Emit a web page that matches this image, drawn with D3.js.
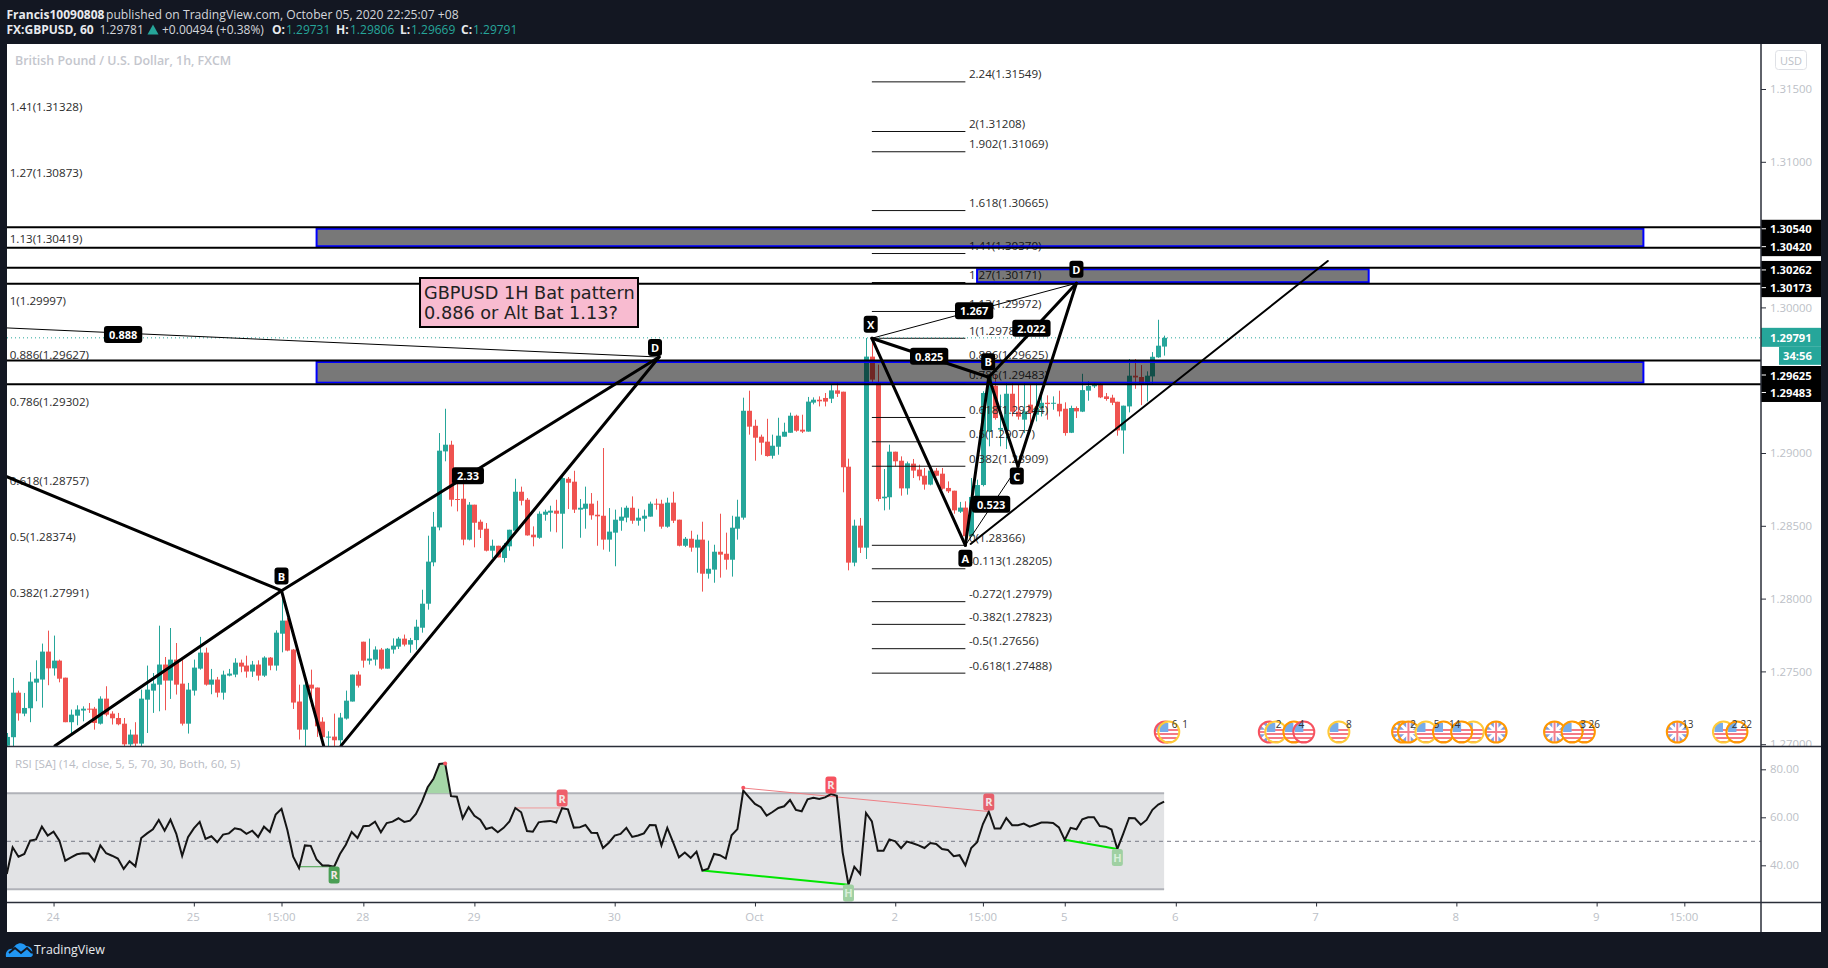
<!DOCTYPE html>
<html><head><meta charset="utf-8">
<script src="https://cdn.jsdelivr.net/npm/d3@7/dist/d3.min.js"></script>
<style>html,body{margin:0;padding:0;background:#131722;overflow:hidden}svg{display:block}text{font-family:"Open Sans",sans-serif}</style>
</head><body><svg id="c" width="1828" height="968"></svg>
<script>
// Candles, in points of 0.00001
const opens=[126990,127048,127354,127210,127247,127423,127444,127636,127521,127574,
127457,127151,127196,127231,127244,127244,127141,127313,127210,127180,
127141,126999,127066,127004,127306,127368,127409,127547,127437,127581,
127416,127141,127368,127519,127629,127409,127444,127354,127471,127478,
127560,127540,127499,127547,127471,127595,127540,127759,127849,127650,
127293,127100,127409,127389,127155,127048,127052,127027,127176,127293,
127478,127704,127574,127581,127650,127519,127650,127670,127725,127684,
127715,127800,127965,128249,128489,129011,129057,128684,128686,128405,
128645,128528,128480,128329,128363,128279,128359,128466,128734,128679,
128439,128418,128576,128590,128604,128583,128823,128803,128611,128617,
128652,128576,128569,128405,128453,128535,128556,128624,128535,128549,
128563,128652,128652,128494,128659,128542,128363,128411,128350,128405,
128171,128199,128322,128308,128267,128480,128556,129290,129187,129112,
129078,128981,129043,129112,129139,129256,129160,129147,129346,129366,
129378,129373,129430,129421,128906,128247,128501,128350,129662,129481,
128689,128696,129009,128947,128757,128927,128886,128844,128783,128879,
128858,128760,128741,128597,128625,128428,128689,128780,129147,129462,
129160,129156,129407,129284,129229,129332,129263,129309,129345,129338,
129338,129304,129139,129309,129284,129428,129458,129469,129389,129380,
129352,129155,129320,129531,129522,129469,129526,129657,129731];
const closes=[127050,127354,127212,127249,127430,127450,127636,127521,127574,127450,
127151,127203,127238,127244,127240,127146,127313,127203,127178,127137,
126999,127066,127004,127313,127375,127416,127547,127437,127581,127409,
127141,127375,127526,127629,127409,127444,127354,127478,127485,127560,
127533,127499,127547,127471,127595,127540,127766,127849,127643,127286,
127100,127409,127382,127123,127048,127052,127027,127183,127299,127478,
127402,127574,127588,127650,127519,127656,127677,127725,127684,127715,
127807,127965,128254,128494,129016,129057,128679,128682,128405,128645,
128521,128473,128329,128363,128283,128363,128473,128734,128672,128434,
128421,128583,128597,128604,128583,128828,128796,128611,128624,128652,
128572,128565,128405,128460,128542,128563,128624,128535,128556,128569,
128652,128647,128494,128659,128535,128363,128411,128350,128405,128171,
128205,128322,128302,128267,128487,128563,129290,129181,129105,129071,
128979,129050,129119,129146,129256,129153,129147,129353,129366,129355,
129353,129430,129407,128902,128247,128501,128350,129662,129504,128684,
128700,129009,128943,128757,128929,128879,128840,128783,128879,128844,
128755,128737,128606,128625,128428,128698,128780,129412,129524,129240,
129172,129407,129284,129250,129286,129274,129309,129345,129336,129345,
129286,129137,129309,129286,129432,129460,129471,129382,129371,129345,
129155,129325,129531,129519,129469,129531,129661,129737,129791];
const highs=[127077,127455,127368,127352,127494,127576,127691,127780,127746,127581,
127457,127238,127267,127260,127283,127256,127329,127398,127226,127215,
127180,127100,127151,127375,127540,127489,127814,127599,127798,127695,
127581,127421,127581,127737,127663,127517,127462,127505,127517,127590,
127581,127608,127572,127576,127604,127599,127782,128050,127867,127654,
127409,127421,127512,127389,127185,127089,127210,127215,127368,127478,
127501,127704,127725,127672,127661,127661,127727,127737,127753,127730,
127855,128061,128432,128595,129137,129304,129084,128794,128805,128663,
128645,128542,128519,128405,128363,128382,128473,128823,128769,128691,
128496,128599,128611,128638,128679,128844,128835,128878,128684,128769,
128725,128672,129034,128622,128611,128627,128638,128702,128617,128611,
128666,128686,128679,128693,128734,128542,128423,128466,128439,128528,
128398,128370,128583,128453,128569,128679,129380,129428,129229,129126,
129235,129126,129242,129208,129277,129263,129263,129385,129382,129389,
129412,129469,129481,129421,128961,128542,128554,129790,129790,129607,
128890,129057,129009,128977,128941,128959,128920,128897,128909,128897,
128897,128805,128741,128664,128668,128828,128817,129424,129538,129538,
129401,129481,129481,129470,129480,129469,129480,129412,129396,129389,
129428,129348,129325,129320,129544,129492,129487,129480,129412,129400,
129352,129325,129645,129645,129604,129561,129693,129915,129806];
const lows=[126960,126974,127162,127192,127151,127295,127251,127405,127471,127425,
127151,127066,127130,127157,127215,127100,127135,127192,127135,127130,
126974,126974,126980,126980,127077,127215,127226,127233,127311,127341,
127128,127073,127334,127512,127402,127343,127322,127306,127466,127460,
127494,127457,127462,127437,127462,127508,127505,127631,127638,127242,
127032,126974,127260,127050,126974,126974,126974,126974,127169,127293,
127389,127526,127547,127540,127512,127519,127622,127654,127672,127628,
127649,127766,127924,128222,128469,128943,128633,128599,128366,128400,
128352,128416,128324,128279,128283,128249,128329,128462,128640,128432,
128359,128411,128535,128460,128455,128343,128615,128588,128418,128480,
128542,128363,128336,128322,128222,128466,128524,128514,128501,128460,
128563,128611,128480,128487,128519,128359,128354,128322,128178,128048,
128137,128109,128144,128199,128151,128405,128542,129126,128947,128988,
128975,128961,128988,129112,129139,129146,129137,129147,129334,129320,
129320,129343,129385,128730,128194,128222,128313,128272,129481,128668,
128606,128611,128909,128707,128714,128828,128812,128748,128778,128840,
128748,128725,128583,128588,128393,128428,128680,128771,129046,129229,
129046,129028,129252,129229,129137,129201,129217,129251,129229,129297,
129251,129119,129137,129240,129281,129359,129446,129377,129359,129329,
129119,128995,129279,129441,129329,129354,129469,129654,129669];
const rsiValues=[36.4,47.5,43.6,44.7,50.3,50.8,56.1,52.4,54.0,50.3,
41.9,43.3,44.6,45.0,44.9,41.7,48.3,45.0,44.0,42.8,
38.5,41.7,39.6,51.4,53.3,55.0,58.9,54.4,59.0,53.1,
43.9,51.7,55.4,58.1,51.0,52.1,49.6,52.8,53.3,55.4,
54.9,53.1,54.4,51.8,56.1,53.9,61.1,63.5,54.7,43.6,
38.8,48.3,48.1,42.4,39.9,39.9,39.4,44.7,48.6,53.9,
51.4,56.3,56.5,58.2,53.8,57.6,58.2,59.6,58.1,58.6,
61.4,66.3,72.5,76.0,82.2,82.5,68.8,68.6,59.6,64.2,
60.6,59.0,55.1,55.8,53.8,55.6,58.3,63.9,62.1,54.3,
54.0,57.9,58.3,58.5,57.8,63.8,63.3,55.7,55.8,56.8,
53.6,53.5,47.2,49.4,52.4,53.1,55.6,51.8,52.4,53.3,
56.8,56.7,48.3,55.6,49.6,43.3,45.3,43.1,45.7,37.8,
38.6,44.7,44.2,42.8,52.5,55.1,71.1,68.3,65.6,64.2,
60.7,62.2,63.9,64.6,67.2,63.1,62.5,67.5,68.1,67.6,
68.3,69.7,69.0,45.4,31.9,39.4,36.4,61.8,58.3,46.1,
46.1,50.8,50.0,47.1,49.9,49.2,48.3,47.2,49.3,48.9,
46.8,46.4,43.8,44.2,40.0,47.2,49.6,57.2,62.4,55.3,
55.3,59.7,56.7,56.7,57.4,56.1,56.9,57.8,57.8,57.6,
55.8,50.6,55.6,55.0,59.2,60.0,60.0,56.4,56.1,54.9,
46.8,53.1,59.7,59.6,56.9,58.9,63.1,65.3,66.5];

const priceTicks=[1.315,1.31,1.30,1.29,1.285,1.28,1.275,1.27];
const rsiTicks=[80,60,40];
const timeTickBars=[8,32,47,61,80,104,128,152,167,181,200,224,248,272,287];
const timeTickLabels=["24","25","15:00","28","29","30","Oct","2","15:00","5","6","7","8","9","15:00"];

// Fibonacci levels
const leftFib=[["1.41",1.31328],["1.27",1.30873],["1.13",1.30419],["1",1.29997],["0.886",1.29627],["0.786",1.29302],["0.618",1.28757],["0.5",1.28374],["0.382",1.27991]];
const centerFib=[["2.24",1.31549],["2",1.31208],["1.902",1.31069],["1.618",1.30665],["1.41",1.30370],["1.27",1.30171],["1.13",1.29972],["1",1.29788],["0.886",1.29625],["0.786",1.29483],["0.618",1.29244],["0.5",1.29077],["0.382",1.28909],["0",1.28366],["-0.113",1.28205],["-0.272",1.27979],["-0.382",1.27823],["-0.5",1.27656],["-0.618",1.27488]];
const fibLineBars=[148,164];
const fibLeftBar=0.5, fibCenterBar=164.6;

// Zones: [top price, bottom price, first bar, last bar]
const zones=[[1.30540,1.30420,53,280],[1.30262,1.30173,166,233],[1.29625,1.29483,53,280]];
const zoneTags=[1.30540,1.30420,1.30262,1.30173,1.29625,1.29483];
const zoneTagNudge=[0,0.4,0.7,5.4,13,9.8];

// Harmonic pattern legs: [bar, price, bar, price, weight]
const legs=[
 [0.03,1.29859,111.6,1.29659,1],
 [0,1.28837,47,1.28054,3],[8.25,1.2699,47,1.28054,3],[47,1.28054,54.2,1.2699,3],
 [47,1.28054,111.6,1.29659,3],[57.2,1.2699,111.6,1.29659,3],
 [148,1.29788,164,1.28366,3],[164,1.28366,168,1.2952,3],[168,1.2952,173,1.28909,3],[173,1.28909,183,1.30166,3],
 [148,1.29788,168,1.2952,3],[168,1.2952,183,1.30166,3],
 [148,1.29788,183,1.30166,1],[164,1.28366,173,1.28909,1],
 [164.9,1.28375,226,1.30319,2]];
const legLabels=[["0.888",19.9,1.29814],["2.33",78.9,1.28844],["B",47,1.28155],["D",110.9,1.29725],
 ["1.267",165.5,1.29977],["2.022",175.3,1.29856],["0.825",157.8,1.29664],["0.523",168.4,1.28648],
 ["X",147.8,1.29884],["A",164,1.28277],["B",167.9,1.29627],["C",172.8,1.28842],["D",183,1.30262]];

// Economic events: [bar, country, ring]
const events=[[198.2,"US","#f7525f"],[198.8,"US","#ffca3a"],[216,"GB","#f7525f"],[217.1,"US","#ffca3a"],[220.2,"US","#ff9800"],[221.9,"US","#f7525f"],
 [227.9,"US","#ffca3a"],[238.8,"GB","#ff9800"],[239.8,"GB","#ff9800"],[242.8,"US","#ffca3a"],[245.8,"US","#ff9800"],[250.9,"US","#ffca3a"],[248.9,"US","#ff9800"],
 [254.8,"GB","#ff9800"],[264.8,"GB","#ff9800"],[269.9,"US","#ff9800"],[267.8,"US","#ff9800"],[285.8,"GB","#ff9800"],[293.7,"US","#ffca3a"],[296,"US","#ff9800"]];
const eventCounts=[["6",199.8],["1",201.6],["2",217.6],["4",221.5],["8",229.6],["2",240.6],["5",244.6],["14",247.7],["3",269.7],["26",271.6],["13",287.6],["2",295.6],["22",297.6]];

// RSI annotations
const rsiPlain=[[50,39.4,56,39.4,"#43a047",1],[87,63.9,95,63.9,"#ef9a9a",1],[126,72.2,168,62.4,"#ef7f85",1],[119,37.8,144,31.9,"#00e600",2],[181,50.6,190,46.8,"#00e600",2]];
const rsiBadges=[["R",56,36.0,"#4a9f55"],["R",95,68.0,"#ef5f6b"],["R",141,73.5,"#f6525f"],["R",168,66.4,"#e6606c"],["H",144,28.5,"#9fd0a2"],["H",190,43.2,"#9fd0a2"]];
const rsiDots=[[75,82.4],[126,72.3]];

const svg=d3.select("#c");
const W=1828,H=968,L=7,PR=1761,T=44,PB=746.5,RB=902.5,BB=932,RR=1821;
const x=d3.scaleLinear().domain([0,198]).range([6.8,6.8+198*5.845]);
const y=d3.scaleLinear().domain([1.315,1.27]).range([89,744.2]);
const yr=d3.scaleLinear().domain([80,40]).range([769.3,865.3]);
const TEAL="#26a69a",RED="#ef5350",AX="#2a2e39";

const bars=d3.range(opens.length).map(i=>({i,o:opens[i]/1e5,h:highs[i]/1e5,l:lows[i]/1e5,c:closes[i]/1e5}));
svg.append("rect").attr("width",W).attr("height",H).attr("fill","#131722");
svg.append("rect").attr("x",L).attr("y",T).attr("width",RR-L).attr("height",BB-T).attr("fill","#fff");
const defs=svg.append("defs");
defs.append("clipPath").attr("id","main").append("rect").attr("x",L).attr("y",T).attr("width",PR-L).attr("height",PB-T);
defs.append("clipPath").attr("id","axisclip").append("rect").attr("x",PR).attr("y",T).attr("width",RR-PR).attr("height",PB-T);
defs.append("clipPath").attr("id","rsi").append("rect").attr("x",L).attr("y",PB).attr("width",PR-L).attr("height",RB-PB);
defs.append("clipPath").attr("id","disc").append("circle").attr("r",10.5);

const main=svg.append("g").attr("clip-path","url(#main)");

// candles
const cg=main.append("g");
cg.selectAll("line").data(bars).join("line")
 .attr("x1",d=>Math.round(x(d.i))+.5).attr("x2",d=>Math.round(x(d.i))+.5)
 .attr("y1",d=>y(d.h)).attr("y2",d=>y(d.l)).attr("stroke",d=>d.c>=d.o?TEAL:RED);
cg.selectAll("rect").data(bars).join("rect")
 .attr("x",d=>Math.round(x(d.i))-2).attr("width",5)
 .attr("y",d=>y(Math.max(d.o,d.c))).attr("height",d=>Math.max(1,Math.abs(y(d.o)-y(d.c))))
 .attr("fill",d=>d.c>=d.o?TEAL:RED);

// fib
const fibStyle=s=>s.attr("font-size",11.6).attr("fill","#2b2b2b").attr("dominant-baseline","central");
fibStyle(main.append("g").selectAll("text").data(leftFib).join("text")
 .attr("x",x(fibLeftBar)).attr("y",d=>y(d[1])-7.5).text(d=>`${d[0]}(${d[1].toFixed(5)})`));
main.append("g").selectAll("line").data(centerFib).join("line")
 .attr("x1",x(fibLineBars[0])).attr("x2",x(fibLineBars[1]))
 .attr("y1",d=>y(d[1])).attr("y2",d=>y(d[1])).attr("stroke","#111").attr("stroke-width",1);
fibStyle(main.append("g").selectAll("text").data(centerFib).join("text")
 .attr("x",x(fibCenterBar)).attr("y",d=>y(d[1])-8).text(d=>`${d[0]}(${d[1].toFixed(5)})`));

// zones
const zg=main.append("g");
zg.selectAll("rect").data(zones).join("rect")
 .attr("x",d=>x(d[2])).attr("width",d=>x(d[3])-x(d[2]))
 .attr("y",d=>y(d[0])).attr("height",d=>y(d[1])-y(d[0]))
 .attr("fill","rgba(0,0,0,0.53)").attr("stroke","#0000ff").attr("stroke-width",2);
zg.selectAll("line").data(zoneTags).join("line")
 .attr("x1",L).attr("x2",PR).attr("stroke","#000").attr("stroke-width",2)
 .attr("y1",(d,k)=>y(d)+(k%2?1.6:-1.6)).attr("y2",(d,k)=>y(d)+(k%2?1.6:-1.6));

// last price line
main.append("line").attr("x1",L).attr("x2",PR).attr("y1",y(closes[198]/1e5)).attr("y2",y(closes[198]/1e5))
 .attr("stroke",TEAL).attr("stroke-dasharray","1 3");

// pattern legs
main.append("g").selectAll("line").data(legs).join("line")
 .attr("x1",d=>x(d[0])).attr("y1",d=>y(d[1])).attr("x2",d=>x(d[2])).attr("y2",d=>y(d[3]))
 .attr("stroke","#000").attr("stroke-width",d=>d[4]).attr("stroke-linecap","round");

// text note
const note=main.append("g");
note.append("rect").attr("x",420).attr("y",278).attr("width",218).attr("height",49).attr("fill","#f8bbd0").attr("stroke","#000").attr("stroke-width",2);
["GBPUSD 1H Bat pattern","0.886 or Alt Bat 1.13?"].forEach((t,k)=>note.append("text").attr("x",424).attr("y",292.5+k*20).attr("dominant-baseline","central")
 .style("font-family","DejaVu Sans").attr("font-size",17.7).attr("fill","#222").text(t));

// badges on legs
const lab=main.append("g").selectAll("g").data(legLabels).join("g").attr("transform",d=>`translate(${x(d[1])},${y(d[2])})`);
lab.append("rect").attr("x",-7).attr("width",14).attr("y",-8.5).attr("height",17).attr("rx",3).attr("fill","#000");
lab.append("text").attr("text-anchor","middle").attr("dominant-baseline","central").attr("fill","#fff").attr("font-size",11).attr("font-weight",700).text(d=>d[0]);
lab.each(function(d){const g=d3.select(this),w=g.select("text").node().getBBox().width+10; if(d[0].length>1) g.select("rect").attr("x",-w/2).attr("width",w);});

// events
const ev=main.append("g").selectAll("g").data(events).join("g").attr("transform",d=>`translate(${x(d[0])},732)`);
ev.append("circle").attr("r",10.5).attr("fill","#fff");
const face=ev.append("g").attr("clip-path","url(#disc)").attr("opacity",.75);
face.each(function(d){
 const g=d3.select(this);
 if(d[1]==="US"){
  [1,5,9].forEach(v=>g.append("rect").attr("x",-11).attr("y",v).attr("width",22).attr("height",2).attr("fill","#f04e5e"));
  g.append("rect").attr("x",-1).attr("y",-3).attr("width",12).attr("height",2).attr("fill","#f04e5e");
  g.append("rect").attr("x",-9).attr("y",-9).attr("width",8.5).attr("height",9).attr("fill","#4a90e2");
 } else {
  g.append("rect").attr("x",-11).attr("y",-11).attr("width",22).attr("height",22).attr("fill","#5b7fd3");
  g.append("path").attr("d","M-11,-11L11,11M11,-11L-11,11").attr("stroke","#fff").attr("stroke-width",3);
  g.append("path").attr("d","M0,-11V11M-11,0H11").attr("stroke","#fff").attr("stroke-width",4.5);
  g.append("path").attr("d","M0,-11V11M-11,0H11").attr("stroke","#ef5566").attr("stroke-width",2);
 }
});
ev.append("circle").attr("r",10.5).attr("fill","none").attr("stroke",d=>d[2]).attr("stroke-width",2);
main.append("g").selectAll("text").data(eventCounts).join("text").attr("x",d=>x(d[1])).attr("y",724).attr("text-anchor","middle").attr("dominant-baseline","central")
 .attr("font-size",10).attr("fill","#333").text(d=>d[0]);

// titles
svg.append("text").attr("x",15).attr("y",60).attr("dominant-baseline","central").attr("font-size",12.4).attr("font-weight",600).attr("fill","#c4c6cd").text("British Pound / U.S. Dollar, 1h, FXCM");

// RSI pane
const rp=svg.append("g").attr("clip-path","url(#rsi)");
rp.append("rect").attr("x",L).attr("width",x(198)-L).attr("y",yr(70)).attr("height",yr(30)-yr(70)).attr("fill","#e2e3e5");
rp.append("g").selectAll("line").data([70,30]).join("line").attr("x1",L).attr("x2",x(198)).attr("y1",d=>yr(d)).attr("y2",d=>yr(d)).attr("stroke","#b0b2b8").attr("stroke-width",2);
rp.append("line").attr("x1",L).attr("x2",PR).attr("y1",yr(50)).attr("y2",yr(50)).attr("stroke","#787b86").attr("stroke-dasharray","4 4");
const series=rsiValues.map((v,i)=>[i,v]);
const area=d3.area().defined(d=>d[1]>=70).x(d=>x(d[0])).y0(yr(70)).y1(d=>yr(d[1]));
const clampSeries=[];
series.forEach((d,k)=>{ if(k){const p=series[k-1]; if((p[1]-70)*(d[1]-70)<0){const t=(70-p[1])/(d[1]-p[1]);clampSeries.push([p[0]+t,70]);}} clampSeries.push(d);});
rp.append("path").attr("d",area(clampSeries)).attr("fill","#a5d6a7");
rp.append("g").selectAll("line").data(rsiPlain).join("line").attr("x1",d=>x(d[0])).attr("y1",d=>yr(d[1])).attr("x2",d=>x(d[2])).attr("y2",d=>yr(d[3])).attr("stroke",d=>d[4]).attr("stroke-width",d=>d[5]);
rp.append("path").attr("d",d3.line().x(d=>x(d[0])).y(d=>yr(d[1]))(series)).attr("fill","none").attr("stroke","#151515").attr("stroke-width",2);
rp.append("g").selectAll("circle").data(rsiDots).join("circle").attr("cx",d=>x(d[0])).attr("cy",d=>yr(d[1])).attr("r",2).attr("fill","#f7525f");
const bd=rp.append("g").selectAll("g").data(rsiBadges).join("g").attr("transform",d=>`translate(${x(d[1])},${yr(d[2])})`);
bd.append("rect").attr("x",-5.5).attr("y",-8.5).attr("width",11).attr("height",17).attr("rx",2.5).attr("fill",d=>d[3]);
bd.append("text").attr("text-anchor","middle").attr("dominant-baseline","central").attr("font-size",11).attr("font-weight",700).attr("fill",d=>d[0]==="H"?"#d8efd9":"#f3e6e6").text(d=>d[0]);
svg.append("text").attr("x",15).attr("y",763.5).attr("dominant-baseline","central").attr("font-size",11.6).attr("fill","#b9bcc4").text("RSI [SA] (14, close, 5, 5, 70, 30, Both, 60, 5)");

// axes
const styleAxis=g=>{g.select(".domain").remove();g.selectAll("line").attr("stroke",AX);g.selectAll("text").attr("fill","#bcbfc7").attr("font-size",11.4).style("font-family",'"Open Sans",sans-serif');};
svg.append("g").attr("clip-path","url(#axisclip)").append("g").attr("transform",`translate(${PR},0)`)
 .call(d3.axisRight(y).tickValues(priceTicks).tickFormat(d3.format(".5f")).tickSize(5).tickPadding(4)).call(styleAxis);
svg.append("g").attr("transform",`translate(${PR},0)`)
 .call(d3.axisRight(yr).tickValues(rsiTicks).tickFormat(d3.format(".2f")).tickSize(5).tickPadding(4)).call(styleAxis);
svg.append("g").attr("transform",`translate(0,${RB})`)
 .call(d3.axisBottom(x).tickValues(timeTickBars).tickFormat((d,k)=>timeTickLabels[k]).tickSize(4).tickPadding(6)).call(styleAxis)
 .selectAll("text").attr("dx",-1);

// price tags
const ly=y(closes[198]/1e5);
svg.append("rect").attr("x",PR).attr("y",ly-10).attr("width",RR-PR).attr("height",19).attr("fill",TEAL);
svg.append("text").attr("x",PR+9).attr("y",ly).attr("dominant-baseline","central").attr("font-size",11.2).attr("font-weight",700).attr("fill","#fff").text((closes[198]/1e5).toFixed(5));
svg.append("rect").attr("x",1779).attr("y",ly+9).attr("width",RR-1779).attr("height",18).attr("fill",TEAL);
svg.append("text").attr("x",1783).attr("y",ly+18).attr("dominant-baseline","central").attr("font-size",11.2).attr("font-weight",700).attr("fill","#fff").text("34:56");
const tg=svg.append("g").selectAll("g").data(zoneTags).join("g").attr("transform",(d,k)=>`translate(${PR},${y(d)+zoneTagNudge[k]})`);
tg.append("rect").attr("y",-9).attr("width",RR-PR).attr("height",18.5).attr("fill","#000");
tg.append("line").attr("x2",5).attr("stroke","#fff");
tg.append("text").attr("x",9).attr("dominant-baseline","central").attr("font-size",11.2).attr("font-weight",700).attr("fill","#fff").text(d=>d.toFixed(5));

// USD badge
svg.append("rect").attr("x",1775.5).attr("y",50.5).attr("width",31).attr("height",19).attr("rx",3).attr("fill","#fff").attr("stroke","#dfe1e6");
svg.append("text").attr("x",1791).attr("y",60).attr("text-anchor","middle").attr("dominant-baseline","central").attr("font-size",11).attr("fill","#bcbfc7").text("USD");

// frame lines
const frame=[[PR,T,PR,BB],[L,PB,RR,PB],[L,RB,RR,RB]];
svg.append("g").selectAll("line").data(frame).join("line").attr("x1",d=>d[0]).attr("y1",d=>d[1]).attr("x2",d=>d[2]).attr("y2",d=>d[3]).attr("stroke",AX).attr("stroke-width",1.5);

// header
const row=(items,yy)=>items.forEach(([t,xx,col,b,fs])=>svg.append("text").attr("x",xx).attr("y",yy).attr("dominant-baseline","central").attr("font-size",fs||12).attr("font-weight",b?700:400).attr("fill",col).text(t));
row([["Francis10090808",6.5,"#e8eaee",1],["published on TradingView.com, October 05, 2020 22:25:07 +08",106,"#d4d6db",0,12.15]],14.5);
row([["FX:GBPUSD, 60",6.5,"#e8eaee",1],["1.29781",99.5,"#d4d6db",0],["+0.00494 (+0.38%)",162,"#d4d6db",0],["O:",272,"#e8eaee",1],["1.29731",286,TEAL,0],["H:",336,"#e8eaee",1],["1.29806",350,TEAL,0],["L:",400,"#e8eaee",1],["1.29669",411,TEAL,0],["C:",461,"#e8eaee",1],["1.29791",473,TEAL,0]],29.5);
svg.append("path").attr("d","M147.5,34.5L153,24.5L158.5,34.5Z").attr("fill",TEAL);

// footer logo
const logo=svg.append("g").attr("transform","translate(6,941)");
logo.append("path").attr("d","M0,16C-1,10 3,7 7,8C9,2 16,0 20,5C25,5 27,9 26,12C28,14 26,16 24,16Z").attr("fill","#2196f3");
logo.append("path").attr("d","M3,12L9,7L15,12L21,7L26,12").attr("fill","none").attr("stroke","#131722").attr("stroke-width",2);
svg.append("text").attr("x",34).attr("y",949.5).attr("dominant-baseline","central").attr("font-size",12.4).attr("fill","#e8eaee").text("TradingView");
</script></body></html>
